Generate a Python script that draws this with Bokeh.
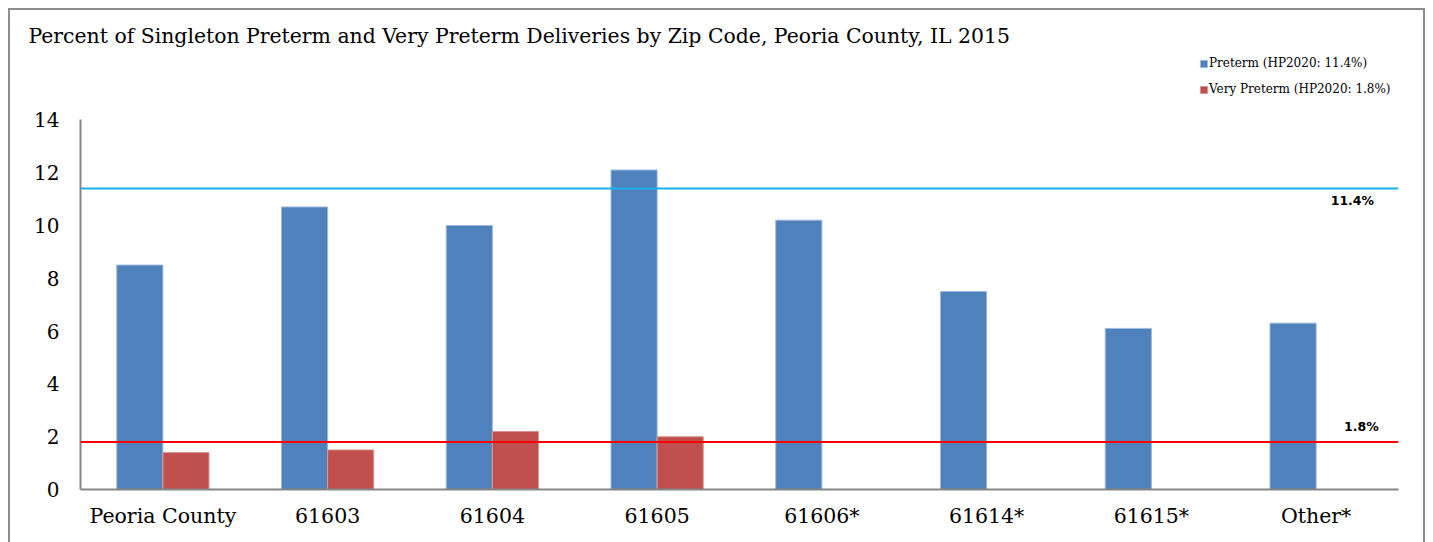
import math
from bokeh.plotting import figure
from bokeh.models import (FactorRange, Range1d, Span, Label, Legend, LegendItem,
                          ColumnDataSource, FixedTicker)
from bokeh.transform import dodge
from bokeh.embed import file_html
from bokeh.resources import INLINE

categories = ["Peoria County", "61603", "61604", "61605", "61606*", "61614*", "61615*", "Other*"]
preterm = [8.5, 10.7, 10.0, 12.1, 10.2, 7.5, 6.1, 6.3]
very_preterm = [1.4, 1.5, 2.2, 2.0, float("nan"), float("nan"), float("nan"), float("nan")]
hp2020_preterm = 11.4
hp2020_very_preterm = 1.8
y_ticks = [0, 2, 4, 6, 8, 10, 12, 14]
title_text = "Percent of Singleton Preterm and Very Preterm Deliveries by Zip Code, Peoria County, IL 2015"
series_names = ["Preterm (HP2020: 11.4%)", "Very Preterm (HP2020: 1.8%)"]

SERIF = "DejaVu Serif"
BLUE = "#4F81BD"
RED = "#C0504D"

# layout (pixels)
FRAME_TOP, AXIS_TOP, AXIS_BOTTOM = 50, 121, 489
y_max_axis = 14
y_top = y_max_axis * (AXIS_BOTTOM - FRAME_TOP) / (AXIS_BOTTOM - AXIS_TOP)

src = ColumnDataSource(dict(cat=categories, pre=preterm, vpre=very_preterm))

p = figure(x_range=FactorRange(*categories, range_padding=0), y_range=Range1d(0, y_top),
           width=1417, height=534, output_backend="svg", toolbar_location=None,
           min_border_left=70, min_border_right=29, min_border_top=38, min_border_bottom=55)
p.styles = {"border-top": "2px solid #8c8c8c", "border-left": "2px solid #8c8c8c",
            "border-right": "2px solid #8c8c8c", "margin-left": "8px", "margin-top": "8px"}
p.outline_line_color = None
p.xgrid.grid_line_color = None
p.ygrid.grid_line_color = None

p.title.text = title_text
p.title.text_font = SERIF
p.title.text_font_size = "20.4px"
p.title.text_font_style = "normal"
p.title.text_color = "#000000"
p.title.align = "left"
p.title.offset = -52
p.title.standoff = 2

r1 = p.vbar(x=dodge("cat", -0.14, range=p.x_range), top="pre", width=0.28, source=src,
            fill_color=BLUE, line_color="#9fb9dc", line_width=1)
r2 = p.vbar(x=dodge("cat", 0.14, range=p.x_range), top="vpre", width=0.28, source=src,
            fill_color=RED, line_color="#d89896", line_width=1)

p.add_layout(Span(location=hp2020_preterm, dimension="width", line_color="#1AAFE8", line_width=2))
p.add_layout(Span(location=hp2020_very_preterm, dimension="width", line_color="#FF0000", line_width=2))

p.add_layout(Label(x=7.72, y=10.95, text=f"{hp2020_preterm}%", text_font="DejaVu Sans",
                   text_font_style="bold", text_font_size="12.5px", text_align="center",
                   text_baseline="middle", text_color="#000000"))
p.add_layout(Label(x=7.775, y=2.4, text=f"{hp2020_very_preterm}%", text_font="DejaVu Sans",
                   text_font_style="bold", text_font_size="12.5px", text_align="center",
                   text_baseline="middle", text_color="#000000"))

legend = Legend(items=[LegendItem(label=series_names[0], renderers=[r1]),
                       LegendItem(label=series_names[1], renderers=[r2])],
                location=(1119, 389), orientation="vertical", padding=0, margin=0,
                spacing=4, glyph_width=9, glyph_height=9, label_height=22,
                label_standoff=1, label_text_font=SERIF, label_text_font_size="12px",
                label_text_color="#000000", border_line_color=None,
                background_fill_alpha=0)
p.add_layout(legend)

p.yaxis.ticker = FixedTicker(ticks=y_ticks)
p.yaxis.bounds = (0, y_max_axis)
for ax in (p.xaxis, p.yaxis):
    ax.axis_line_color = "#868686"
    ax.axis_line_width = 2
    ax.major_tick_line_color = None
    ax.minor_tick_line_color = None
    ax.major_label_text_font = SERIF
    ax.major_label_text_color = "#000000"
p.yaxis.major_label_text_font_size = "20px"
p.xaxis.major_label_text_font_size = "20.5px"
p.yaxis.major_label_standoff = 15
p.xaxis.major_label_standoff = 8

open("out.html", "w").write(file_html(p, INLINE))
